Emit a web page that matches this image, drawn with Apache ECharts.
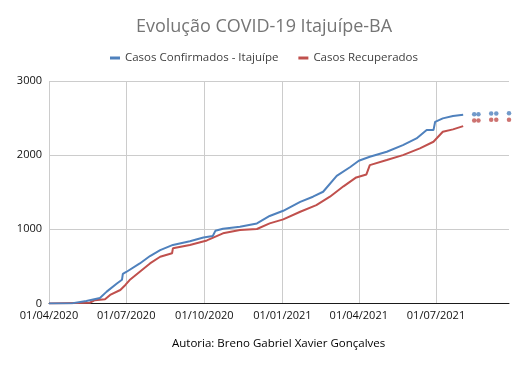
<!DOCTYPE html>
<html>
<head>
<meta charset="utf-8">
<script src="https://cdn.jsdelivr.net/npm/echarts@6/dist/echarts.min.js"></script>
<style>html,body{margin:0;padding:0;background:#fff;}#c{width:528px;height:371px;}</style>
</head>
<body>
<div id="c"></div>
<script>
// ---- data ----
var titleText = 'Evolução COVID-19 Itajuípe-BA';
var captionText = 'Autoria: Breno Gabriel Xavier Gonçalves';
var seriesNames = ['Casos Confirmados - Itajuípe', 'Casos Recuperados'];
var startDate = '2020-04-01';
var endDate = '2021-09-25';
var xTickLabels = ['01/04/2020', '01/07/2020', '01/10/2020', '01/01/2021', '01/04/2021', '01/07/2021'];
var yTicks = [0, 1000, 2000, 3000];

var confirmedDates = ['2020-04-01','2020-04-29','2020-05-15','2020-05-31','2020-06-08','2020-06-20','2020-06-26','2020-06-27','2020-07-01','2020-07-17','2020-07-29','2020-08-10','2020-08-25','2020-09-14','2020-09-30','2020-10-11','2020-10-14','2020-10-23','2020-11-12','2020-12-02','2020-12-17','2021-01-02','2021-01-22','2021-02-06','2021-02-18','2021-03-06','2021-03-22','2021-04-01','2021-04-14','2021-05-04','2021-05-23','2021-06-08','2021-06-20','2021-06-28','2021-06-30','2021-07-09','2021-07-21','2021-08-02'];
var confirmedValues = [0,5,35,75,160,270,320,400,425,540,640,720,790,840,890,910,980,1008,1035,1080,1180,1250,1370,1440,1507,1720,1840,1925,1978,2046,2136,2226,2338,2338,2450,2496,2527,2544];

var recoveredDates = ['2020-04-01','2020-05-19','2020-05-25','2020-06-06','2020-06-12','2020-06-24','2020-06-30','2020-07-05','2020-07-17','2020-07-29','2020-08-10','2020-08-24','2020-08-25','2020-09-14','2020-10-04','2020-10-23','2020-11-12','2020-12-02','2020-12-17','2021-01-02','2021-01-22','2021-02-10','2021-02-26','2021-03-14','2021-03-29','2021-04-10','2021-04-14','2021-05-04','2021-05-23','2021-06-12','2021-06-28','2021-07-09','2021-07-21','2021-08-02'];
var recoveredValues = [0,10,45,57,115,182,250,316,428,540,630,677,744,788,850,946,990,1004,1080,1134,1237,1327,1440,1580,1700,1740,1866,1934,2001,2092,2181,2315,2348,2392];

var confirmedDotDates = ['2021-08-15','2021-08-20','2021-09-04','2021-09-10','2021-09-25'];
var confirmedDotValues = [2552,2552,2563,2563,2565];
var recoveredDotDates = ['2021-08-15','2021-08-20','2021-09-04','2021-09-10','2021-09-25'];
var recoveredDotValues = [2468,2468,2476,2476,2478];

var colors = ['#4F81BD', '#C0504D'];

// ---- build ----
function pad(n){return n<10?'0'+n:''+n;}
function fmt(d){return pad(d.getUTCDate())+'/'+pad(d.getUTCMonth()+1)+'/'+d.getUTCFullYear();}
var categories = [];
(function(){
  var d = new Date(startDate+'T00:00:00Z'), e = new Date(endDate+'T00:00:00Z');
  while (d <= e) { categories.push(fmt(d)); d = new Date(d.getTime()+86400000); }
})();
function iso2cat(s){var p=s.split('-');return p[2]+'/'+p[1]+'/'+p[0];}
function pairs(ds, vs){return ds.map(function(d,i){return [iso2cat(d), vs[i]];});}
function isTick(idx){return xTickLabels.indexOf(categories[idx]) >= 0;}

var FONT = 'Open Sans';
var chart = echarts.init(document.getElementById('c'), null, {renderer:'canvas'});
chart.setOption({
  animation: false,
  backgroundColor: '#fff',
  title: {
    text: titleText, left: 'center', top: 13,
    textStyle: {fontFamily: FONT, fontSize: 18, fontWeight: 'normal', color: '#757575'}
  },
  legend: {
    data: seriesNames, top: 47, left: 'center',
    icon: 'rect', itemWidth: 10, itemHeight: 3, itemGap: 20,
    textStyle: {fontFamily: FONT, fontSize: 11.5, color: '#404040'}
  },
  graphic: [{
    type: 'text', left: 172, top: 338,
    style: {text: captionText, font: '11.5px "Open Sans"', fill: '#000'}
  }],
  grid: {left: 49, right: 19, top: 81, bottom: 67.5, containLabel: false},
  xAxis: {
    type: 'category', data: categories, boundaryGap: false,
    axisLine: {show: true, lineStyle: {color: '#1a1a1a', width: 1}},
    axisTick: {show: false},
    axisLabel: {interval: function(i){return isTick(i);}, fontFamily: FONT, fontSize: 11, color: '#111', margin: 7},
    splitLine: {show: true, interval: function(i){return isTick(i);}, lineStyle: {color: '#cccccc', width: 1}}
  },
  yAxis: {
    type: 'value', min: yTicks[0], max: yTicks[yTicks.length-1], interval: 1000,
    axisLine: {show: false}, axisTick: {show: false},
    axisLabel: {fontFamily: FONT, fontSize: 11, color: '#111', margin: 7, formatter: function(v){return String(v);}},
    splitLine: {lineStyle: {color: '#cccccc', width: 1}}
  },
  series: [
    {name: seriesNames[0], type: 'line', data: pairs(confirmedDates, confirmedValues), showSymbol: false,
     lineStyle: {color: colors[0], width: 2}, itemStyle: {color: colors[0]}, z: 3},
    {name: seriesNames[1], type: 'line', data: pairs(recoveredDates, recoveredValues), showSymbol: false,
     lineStyle: {color: colors[1], width: 2}, itemStyle: {color: colors[1]}, z: 2},
    {name: seriesNames[0], type: 'scatter', data: pairs(confirmedDotDates, confirmedDotValues), symbolSize: 4.5,
     itemStyle: {color: colors[0]}, z: 3},
    {name: seriesNames[1], type: 'scatter', data: pairs(recoveredDotDates, recoveredDotValues), symbolSize: 4.5,
     itemStyle: {color: colors[1]}, z: 2}
  ]
});
</script>
</body>
</html>
